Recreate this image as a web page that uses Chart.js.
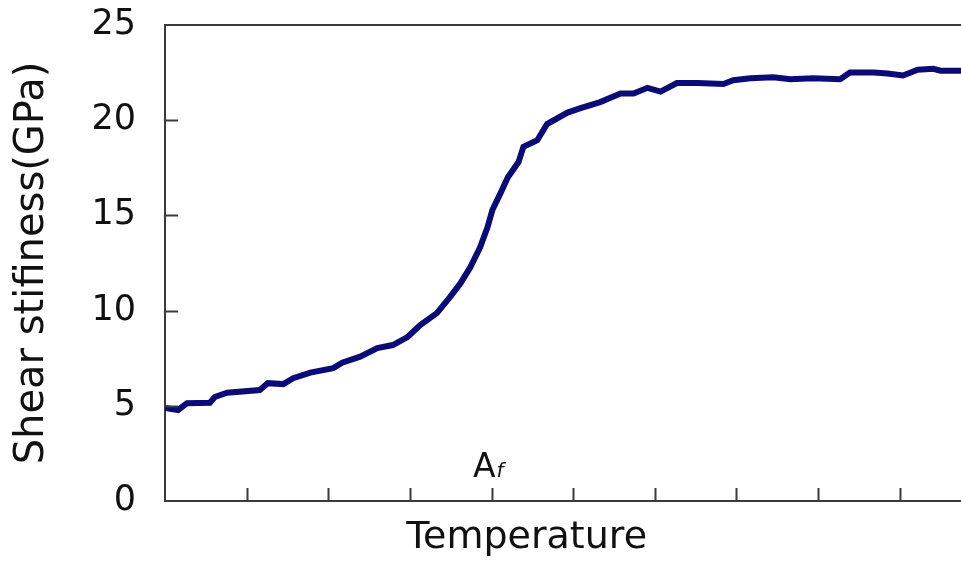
<!DOCTYPE html>
<html>
<head>
<meta charset="utf-8">
<script src="https://cdn.jsdelivr.net/npm/chart.js@4"></script>
<style>
  body { margin: 0; background: #fff; }
  canvas { display: block; }
</style>
</head>
<body>
<canvas id="chart" width="961" height="563"></canvas>
<script>
// temperature (arbitrary units, one per x tick) and shear stiffness in GPa
const temps = [0, 0.16, 0.27, 0.55, 0.61, 0.76, 1.16, 1.26, 1.45, 1.57, 1.78, 2.06, 2.17, 2.39, 2.60, 2.79, 2.97,
  3.13, 3.33, 3.49, 3.62, 3.74, 3.86, 3.95, 4.01, 4.11, 4.20, 4.33, 4.39, 4.56, 4.68, 4.93, 5.09, 5.33,
  5.58, 5.74, 5.91, 6.07, 6.27, 6.52, 6.84, 6.96, 7.17, 7.45, 7.66, 7.94, 8.27, 8.39, 8.68, 8.85, 9.04,
  9.22, 9.41, 9.50, 9.75];
const stiffness = [4.88, 4.78, 5.14, 5.16, 5.46, 5.69, 5.83, 6.19, 6.14, 6.45, 6.74, 6.98, 7.26, 7.58, 8.03, 8.19, 8.61,
  9.25, 9.87, 10.71, 11.44, 12.28, 13.33, 14.38, 15.28, 16.17, 17.0, 17.8, 18.6, 18.95, 19.8, 20.4, 20.63, 20.95,
  21.4, 21.4, 21.7, 21.5, 21.95, 21.95, 21.9, 22.1, 22.2, 22.25, 22.15, 22.2, 22.15, 22.5, 22.5, 22.45, 22.35,
  22.65, 22.7, 22.6, 22.6];

const xTitle = "Temperature";
const yTitle = "Shear stifiness(GPa)";
const afMark = { x: 3.91, y: 1.26, main: "A", sub: "f" };

const axisColor = "#3a3a3a";
const textColor = "#111";

// frame top line, inward tick marks, A_f label and x title
const extras = {
  id: "extras",
  afterDraw(chart) {
    const ctx = chart.ctx;
    const area = chart.chartArea;
    const xs = chart.scales.x;
    const ys = chart.scales.y;
    ctx.save();
    ctx.strokeStyle = axisColor;
    ctx.lineWidth = 2;
    ctx.beginPath();
    ctx.moveTo(area.left, area.top);
    ctx.lineTo(area.right, area.top);
    ys.ticks.forEach(t => {
      if (t.value <= ys.min || t.value >= ys.max) return;
      const py = Math.round(ys.getPixelForValue(t.value)) + 0.5;
      ctx.moveTo(area.left, py);
      ctx.lineTo(area.left + 13, py);
    });
    xs.ticks.forEach(t => {
      if (t.value <= xs.min || t.value >= xs.max) return;
      const px = Math.round(xs.getPixelForValue(t.value)) + 0.5;
      ctx.moveTo(px, area.bottom);
      ctx.lineTo(px, area.bottom - 13);
    });
    ctx.stroke();

    ctx.fillStyle = textColor;
    ctx.textBaseline = "alphabetic";
    ctx.font = "33px 'DejaVu Sans'";
    ctx.textAlign = "center";
    const ax = xs.getPixelForValue(afMark.x);
    const ay = ys.getPixelForValue(afMark.y);
    ctx.fillText(afMark.main, ax, ay);
    const aw = ctx.measureText(afMark.main).width;
    ctx.font = "italic 20px 'DejaVu Sans'";
    ctx.textAlign = "left";
    ctx.fillText(afMark.sub, ax + aw / 2 + 1, ay);

    ctx.font = "38px 'DejaVu Sans'";
    ctx.textAlign = "center";
    ctx.textBaseline = "middle";
    ctx.fillText(xTitle, xs.getPixelForValue(4.43), area.bottom + 37);
    ctx.restore();
  }
};

new Chart(document.getElementById("chart"), {
  type: "line",
  data: {
    datasets: [{
      data: temps.map((t, i) => ({ x: t, y: stiffness[i] })),
      borderColor: "#0b0b78",
      borderWidth: 6,
      pointRadius: 0,
      tension: 0,
      fill: false
    }]
  },
  options: {
    responsive: false,
    animation: false,
    layout: { padding: { top: 25, right: 0, left: 0, bottom: 0 } },
    plugins: { legend: { display: false }, tooltip: { enabled: false } },
    scales: {
      x: {
        type: "linear",
        min: 0,
        max: 9.75,
        ticks: { display: false, stepSize: 1 },
        grid: { display: false, drawTicks: false },
        border: { display: true, color: axisColor, width: 2 },
        afterFit(scale) { scale.height = 62; }
      },
      y: {
        min: 0,
        max: 25,
        ticks: {
          stepSize: 5,
          padding: 29,
          color: textColor,
          font: { family: "'DejaVu Sans'", size: 35 }
        },
        grid: { display: false, drawTicks: false },
        border: { display: true, color: axisColor, width: 2 },
        title: {
          display: true,
          text: yTitle,
          color: textColor,
          font: { family: "'DejaVu Sans'", size: 40 },
          padding: { top: 9, bottom: 0 }
        },
        afterFit(scale) {
          scale.width = 165;
          scale.paddingTop = 0;
          scale.paddingBottom = 0;
        }
      }
    }
  },
  plugins: [extras]
});
</script>
</body>
</html>
